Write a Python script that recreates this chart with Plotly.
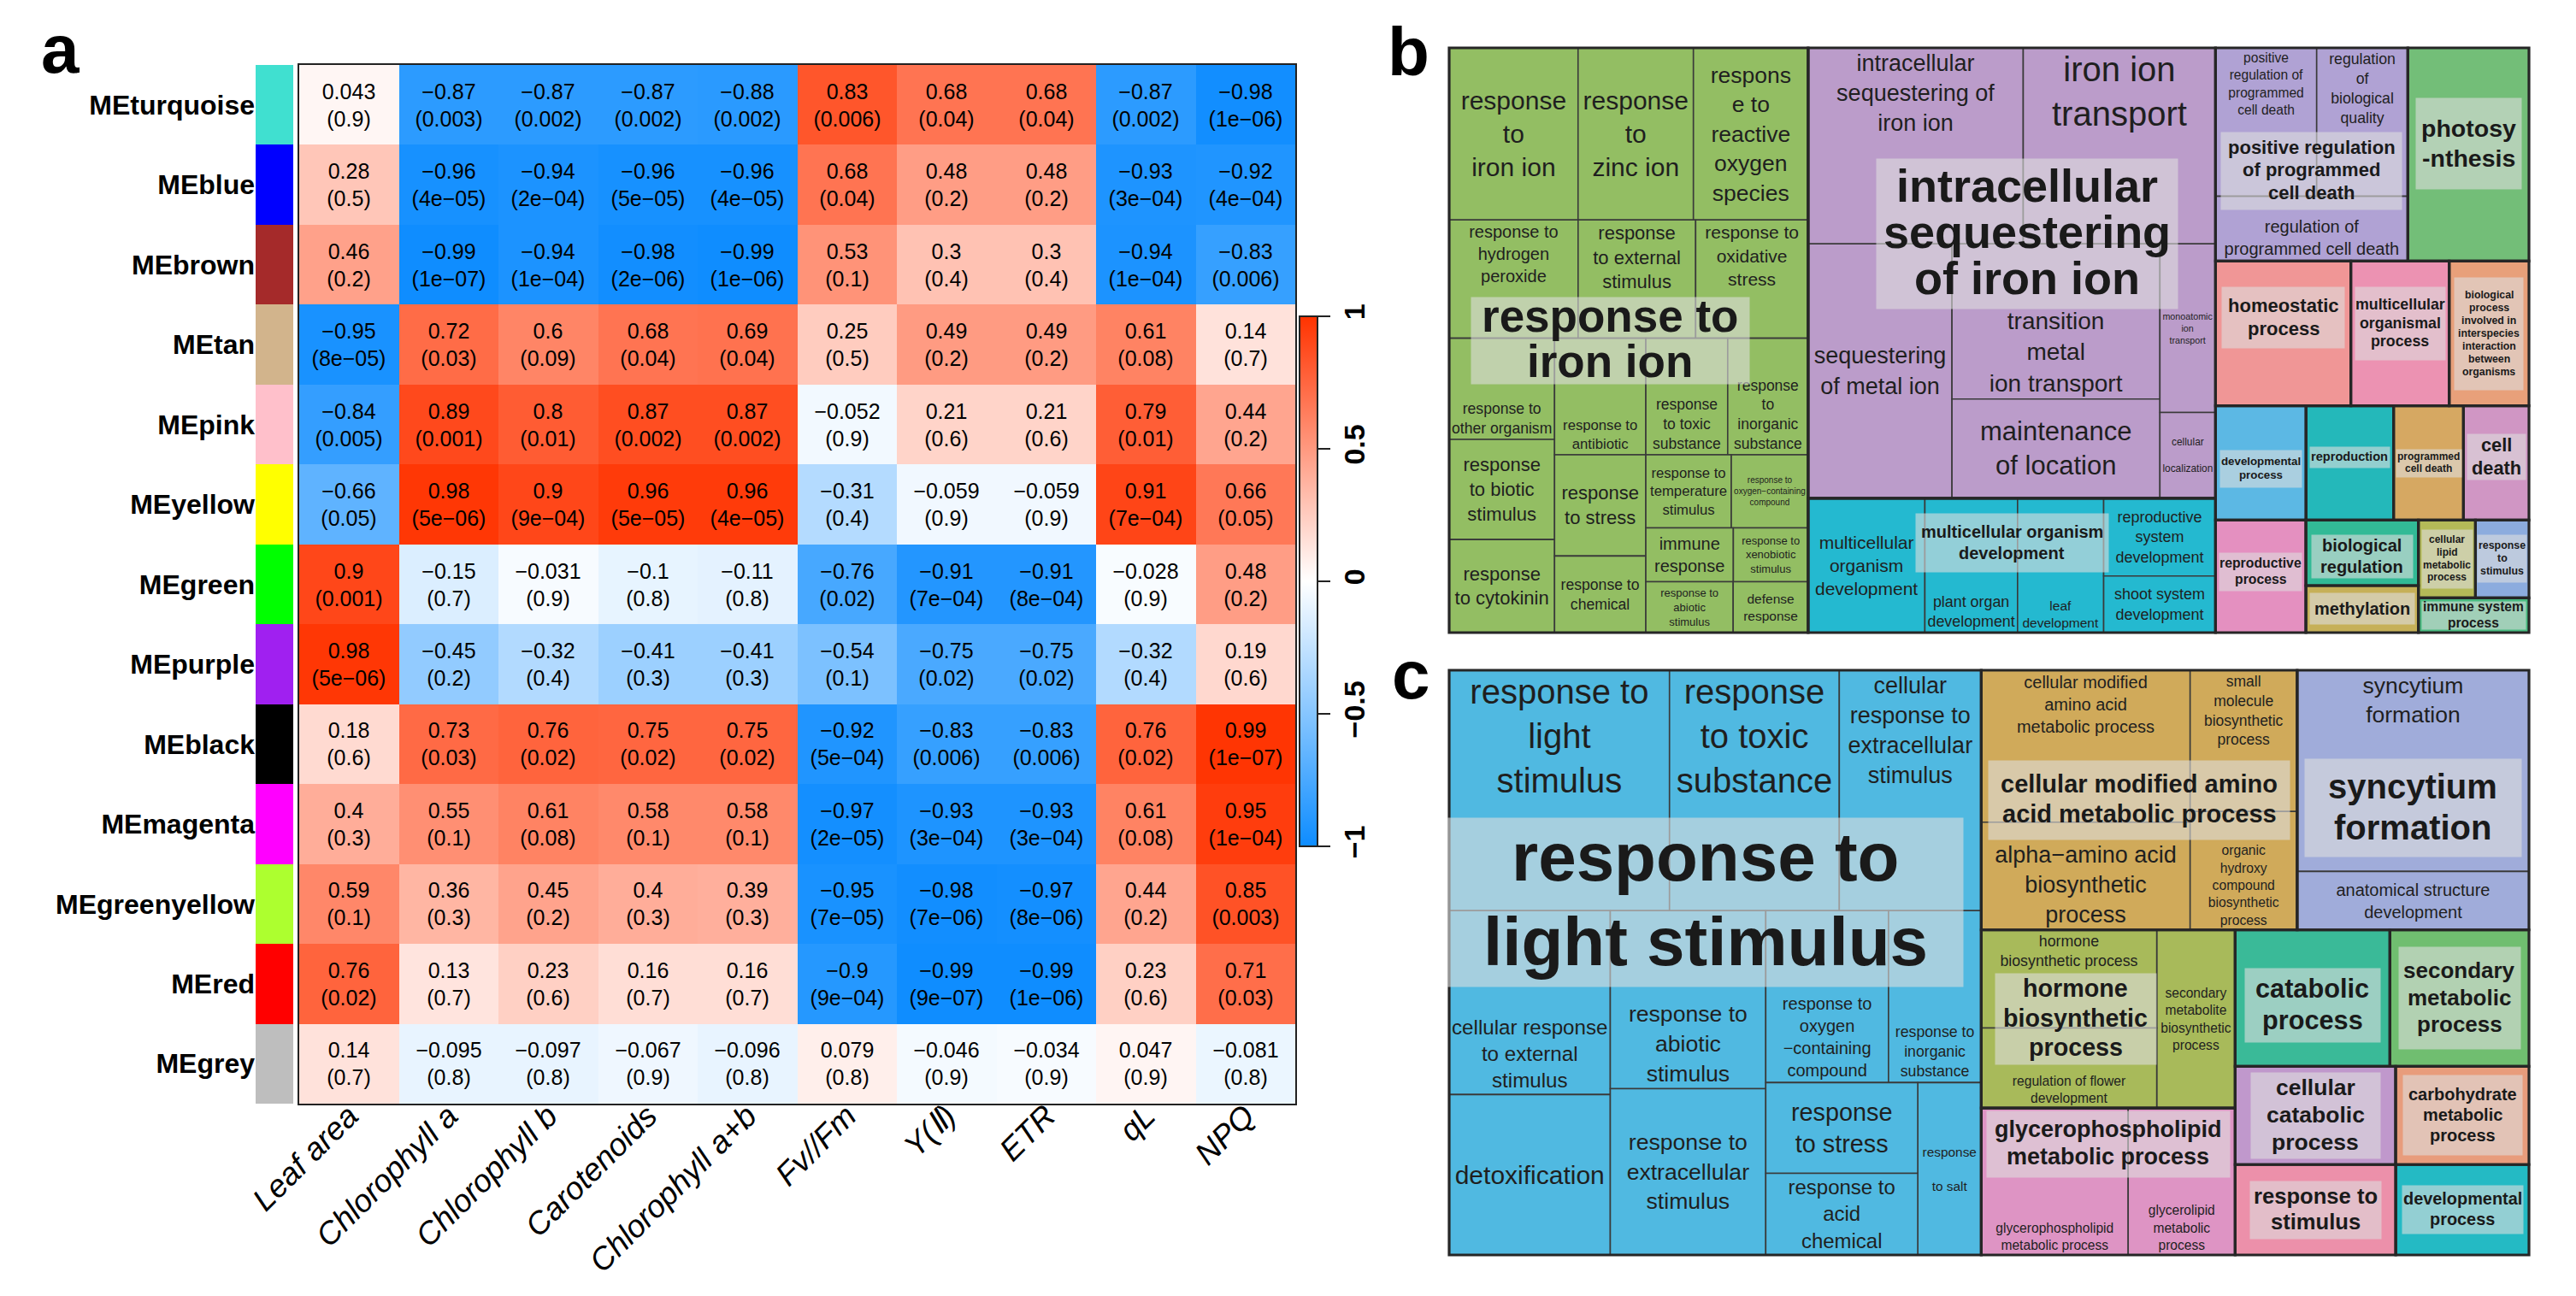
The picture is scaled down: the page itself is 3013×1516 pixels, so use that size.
import plotly.graph_objects as go
from collections import Counter

FONT = "Liberation Sans, Arial, Helvetica, sans-serif"
TRANSP = "rgba(0,0,0,0)"
BOX = "rgba(222,222,222,0.6)"

# ---------------- Panel a : module-trait correlation heatmap ----------------
traits = ["Leaf area", "Chlorophyll a", "Chlorophyll b", "Carotenoids", "Chlorophyll a+b",
          "Fv//Fm", "Y(Ⅱ)", "ETR", "qL", "NPQ"]
modules = ["MEturquoise", "MEblue", "MEbrown", "MEtan", "MEpink", "MEyellow", "MEgreen",
           "MEpurple", "MEblack", "MEmagenta", "MEgreenyellow", "MEred", "MEgrey"]
module_colors = ["#40E0D0", "#0000FF", "#A52A2A", "#D2B48C", "#FFC0CB", "#FFFF00", "#00FF00",
                 "#A020F0", "#000000", "#FF00FF", "#ADFF2F", "#FF0000", "#BEBEBE"]
cor = [
    [0.043, -0.87, -0.87, -0.87, -0.88, 0.83, 0.68, 0.68, -0.87, -0.98],
    [0.28, -0.96, -0.94, -0.96, -0.96, 0.68, 0.48, 0.48, -0.93, -0.92],
    [0.46, -0.99, -0.94, -0.98, -0.99, 0.53, 0.3, 0.3, -0.94, -0.83],
    [-0.95, 0.72, 0.6, 0.68, 0.69, 0.25, 0.49, 0.49, 0.61, 0.14],
    [-0.84, 0.89, 0.8, 0.87, 0.87, -0.052, 0.21, 0.21, 0.79, 0.44],
    [-0.66, 0.98, 0.9, 0.96, 0.96, -0.31, -0.059, -0.059, 0.91, 0.66],
    [0.9, -0.15, -0.031, -0.1, -0.11, -0.76, -0.91, -0.91, -0.028, 0.48],
    [0.98, -0.45, -0.32, -0.41, -0.41, -0.54, -0.75, -0.75, -0.32, 0.19],
    [0.18, 0.73, 0.76, 0.75, 0.75, -0.92, -0.83, -0.83, 0.76, 0.99],
    [0.4, 0.55, 0.61, 0.58, 0.58, -0.97, -0.93, -0.93, 0.61, 0.95],
    [0.59, 0.36, 0.45, 0.4, 0.39, -0.95, -0.98, -0.97, 0.44, 0.85],
    [0.76, 0.13, 0.23, 0.16, 0.16, -0.9, -0.99, -0.99, 0.23, 0.71],
    [0.14, -0.095, -0.097, -0.067, -0.096, 0.079, -0.046, -0.034, 0.047, -0.081],
]
pvals = [
    ["0.9", "0.003", "0.002", "0.002", "0.002", "0.006", "0.04", "0.04", "0.002", "1e-06"],
    ["0.5", "4e-05", "2e-04", "5e-05", "4e-05", "0.04", "0.2", "0.2", "3e-04", "4e-04"],
    ["0.2", "1e-07", "1e-04", "2e-06", "1e-06", "0.1", "0.4", "0.4", "1e-04", "0.006"],
    ["8e-05", "0.03", "0.09", "0.04", "0.04", "0.5", "0.2", "0.2", "0.08", "0.7"],
    ["0.005", "0.001", "0.01", "0.002", "0.002", "0.9", "0.6", "0.6", "0.01", "0.2"],
    ["0.05", "5e-06", "9e-04", "5e-05", "4e-05", "0.4", "0.9", "0.9", "7e-04", "0.05"],
    ["0.001", "0.7", "0.9", "0.8", "0.8", "0.02", "7e-04", "8e-04", "0.9", "0.2"],
    ["5e-06", "0.2", "0.4", "0.3", "0.3", "0.1", "0.02", "0.02", "0.4", "0.6"],
    ["0.6", "0.03", "0.02", "0.02", "0.02", "5e-04", "0.006", "0.006", "0.02", "1e-07"],
    ["0.3", "0.1", "0.08", "0.1", "0.1", "2e-05", "3e-04", "3e-04", "0.08", "1e-04"],
    ["0.1", "0.3", "0.2", "0.3", "0.3", "7e-05", "7e-06", "8e-06", "0.2", "0.003"],
    ["0.02", "0.7", "0.6", "0.7", "0.7", "9e-04", "9e-07", "1e-06", "0.6", "0.03"],
    ["0.7", "0.8", "0.8", "0.9", "0.8", "0.8", "0.9", "0.9", "0.9", "0.8"],
]
cbar_ticks = [-1, -0.5, 0, 0.5, 1]

# ---------------- Panel b : treemap ----------------
b_leaf_text = [
    "response<br>to<br>iron ion", "response<br>to<br>zinc ion",
    "respons<br>e to<br>reactive<br>oxygen<br>species",
    "response to<br>hydrogen<br>peroxide", "response<br>to external<br>stimulus",
    "response to<br>oxidative<br>stress", "response to<br>other organism",
    "response<br>to biotic<br>stimulus", "response<br>to cytokinin", "response to<br>antibiotic",
    "response<br>to toxic<br>substance", "response<br>to<br>inorganic<br>substance",
    "response<br>to stress", "response to<br>chemical", "response to<br>temperature<br>stimulus",
    "response to<br>oxygen−containing<br>compound", "immune<br>response",
    "response to<br>xenobiotic<br>stimulus", "response to<br>abiotic<br>stimulus",
    "defense<br>response",
    "intracellular<br>sequestering of<br>iron ion", "iron ion<br>transport",
    "sequestering<br>of metal ion", "transition<br>metal<br>ion transport",
    "maintenance<br>of location", "monoatomic<br>ion<br>transport", "cellular<br><br>localization",
    "multicellular<br>organism<br>development", "plant organ<br>development",
    "leaf<br>development", "reproductive<br>system<br>development", "shoot system<br>development",
    "positive<br>regulation of<br>programmed<br>cell death", "regulation<br>of<br>biological<br>quality",
    "regulation of<br>programmed cell death",
    "photosynthesis", "homeostatic process", "multicellular organismal process",
    "biological process involved in interspecies interaction between organisms",
    "developmental process", "reproduction", "programmed cell death", "cell death",
    "reproductive process", "biological regulation", "methylation",
    "cellular lipid metabolic process", "response to stimulus", "immune system process",
]
b_values = [80.9, 72.4, 72.0, 55.6, 50.7, 48.5, 38.9, 38.5, 35.8, 38.8, 34.8, 34.2, 33.7, 25.5,
            22.8, 20.5, 17.2, 14.7, 16.2, 13.9,
            153.7, 137.4, 133.5, 117.7, 75.3, 34.2, 17.4,
            57.2, 45.4, 42.2, 31.7, 23.1,
            54.7, 49.3, 45.6,
            94.2, 71.4, 51.9, 42.1, 37.7, 36.5, 29.1, 27.3, 37.1, 26.9, 19.3, 16.2, 15.2, 14.0]
b_leaf_group = [0] * 20 + [1] * 7 + [2] * 5 + [3] * 3 + list(range(4, 18))
b_groups = ["response to<br>iron ion", "intracellular<br>sequestering<br>of iron ion",
            "multicellular organism<br>development",
            "positive regulation<br>of programmed<br>cell death", "photosy<br>-nthesis",
            "homeostatic<br>process", "multicellular<br>organismal<br>process",
            "biological<br>process<br>involved in<br>interspecies<br>interaction<br>between<br>organisms",
            "developmental<br>process", "reproduction", "programmed<br>cell death", "cell<br>death",
            "reproductive<br>process", "biological<br>regulation", "methylation",
            "cellular<br>lipid<br>metabolic<br>process", "response<br>to<br>stimulus",
            "immune system<br>process"]
b_group_colors = ["#93BE63", "#BB9CCA", "#24B9D0", "#B0A2D4", "#73BE78", "#F09696", "#EC92B2",
                  "#E8A07A", "#5CB8E4", "#24B8BA", "#D6A862", "#D096C4", "#E490C0", "#32BA96",
                  "#C6B058", "#B4BA58", "#8CACDE", "#48BA80"]
# slice/dice nesting of the treemap (leaf indices, ('G', group, ...) = group node)
b_spec = ('H', [
    ('G', 0, ('V', [('H', [0, 1, 2]), ('H', [3, 4, 5]),
                    ('H', [('V', [6, 7, 8]),
                           ('V', [('H', [9, 10, 11]),
                                  ('H', [('V', [12, 13]),
                                         ('V', [('H', [14, 15]), ('H', [16, 17]), ('H', [18, 19])])])])])])),
    ('V', [('G', 1, ('V', [('H', [20, 21]), ('H', [22, ('V', [23, 24]), ('V', [25, 26])])])),
           ('G', 2, ('H', [27, 28, 29, ('V', [30, 31])]))]),
    ('V', [('H', [('G', 3, ('V', [('H', [32, 33]), 34])), ('G', 4, 35)]),
           ('H', [('G', 5, 36), ('G', 6, 37), ('G', 7, 38)]),
           ('H', [('G', 8, 39), ('G', 9, 40), ('G', 10, 41), ('G', 11, 42)]),
           ('H', [('G', 12, 43), ('V', [('G', 13, 44), ('G', 14, 45)]),
                  ('V', [('H', [('G', 15, 46), ('G', 16, 47)]), ('G', 17, 48)])])]),
])

# ---------------- Panel c : treemap ----------------
c_leaf_text = [
    "response to<br>light<br>stimulus", "response<br>to toxic<br>substance",
    "cellular<br>response to<br>extracellular<br>stimulus",
    "cellular response<br>to external<br>stimulus", "detoxification",
    "response to<br>abiotic<br>stimulus", "response to<br>extracellular<br>stimulus",
    "response to<br>oxygen<br>−containing<br>compound", "response to<br>inorganic<br>substance",
    "response<br>to stress", "response to<br>acid<br>chemical", "response<br><br>to salt",
    "cellular modified<br>amino acid<br>metabolic process", "alpha−amino acid<br>biosynthetic<br>process",
    "small<br>molecule<br>biosynthetic<br>process",
    "organic<br>hydroxy<br>compound<br>biosynthetic<br>process",
    "syncytium<br>formation", "anatomical structure<br>development",
    "hormone<br>biosynthetic process", "regulation of flower<br>development",
    "secondary<br>metabolite<br>biosynthetic<br>process",
    "glycerophospholipid<br>metabolic process", "glycerolipid<br>metabolic<br>process",
    "catabolic process", "secondary metabolic process", "cellular catabolic process",
    "carbohydrate metabolic process", "response to stimulus", "developmental process",
]
c_values = [193.1, 148.8, 124.4, 108.0, 94.2, 100.9, 94.2, 76.9, 58.1, 50.3, 45.2, 39.9,
            115.7, 82.0, 55.1, 46.2, 170.0, 49.4, 62.7, 51.2, 50.9, 78.7, 57.3,
            77.0, 69.2, 57.4, 47.7, 52.9, 43.9]
c_leaf_group = [0] * 12 + [1] * 4 + [2] * 2 + [3] * 3 + [4] * 2 + list(range(5, 11))
c_groups = ["response to<br>light stimulus", "cellular modified amino<br>acid metabolic process",
            "syncytium<br>formation", "hormone<br>biosynthetic<br>process",
            "glycerophospholipid<br>metabolic process", "catabolic<br>process",
            "secondary<br>metabolic<br>process", "cellular<br>catabolic<br>process",
            "carbohydrate<br>metabolic<br>process", "response to<br>stimulus", "developmental<br>process"]
c_group_colors = ["#50B9E1", "#D0AA5A", "#A0ACDA", "#A8BA5A", "#DE94C4", "#3ABA98", "#70BE70",
                  "#C098CC", "#E89C7C", "#EC90AA", "#24BAC4"]
c_spec = ('H', [
    ('G', 0, ('V', [('H', [0, 1, 2]),
                    ('H', [('V', [3, 4]), ('V', [5, 6]),
                           ('V', [('H', [7, 8]), ('H', [('V', [9, 10]), 11])])])])),
    ('V', [('H', [('G', 1, ('H', [('V', [12, 13]), ('V', [14, 15])])), ('G', 2, ('V', [16, 17]))]),
           ('H', [('V', [('G', 3, ('H', [('V', [18, 19]), 20])), ('G', 4, ('H', [21, 22]))]),
                  ('V', [('H', [('G', 5, 23), ('G', 6, 24)]),
                         ('H', [('G', 7, 25), ('G', 8, 26)]),
                         ('H', [('G', 9, 27), ('G', 10, 28)])])])]),
])

# ---------------- styles ----------------
b_text_pos = ['m'] * 49
for i in [3, 4, 5, 20, 21, 32, 33]:
    b_text_pos[i] = 't'
for i in [6, 9, 10, 11, 23, 28, 29, 34]:
    b_text_pos[i] = 'b'
c_text_pos = ['m'] * 29
for i in [0, 1, 2, 12, 14, 16, 18]:
    c_text_pos[i] = 't'
for i in [3, 5, 7, 8, 13, 15, 19, 21, 22]:
    c_text_pos[i] = 'b'
b_text_size = [30, 30, 26.5, 20, 22, 21, 22, 22, 22, 16.7, 17.5, 17.5, 22, 17.6, 16.7, 10, 20, 13,
               13, 15.5, 27, 40, 27, 28, 31, 11, 12, 21, 18, 15.5, 18, 18, 15.6, 17.7, 20] + [10] * 14
c_text_size = [40, 40, 27, 24.5, 30, 26.6, 26.6, 20, 17.7, 28.8, 26.6, 15.4, 20, 27, 17.5, 15.7,
               26.5, 20, 17.8, 15.7, 15.6, 15.6, 15.6] + [10] * 6
b_label_size = [53, 54, 20, 22, 28.5, 22, 17.8, 12.3, 13.3, 14.6, 12, 21.8, 15.8, 20, 20, 12, 12.4, 15.6]
c_label_size = [80, 29, 40, 28.7, 27, 30.7, 26, 26.5, 20, 25.6, 19.9]
b_label_lh = [1.0, 1.0] + [1.22] * 16
c_label_lh = [1.24] + [1.2] * 10
b_box_w = [325, 352, 225, 211, 123, 143, 105, 80, 95, 93, 76, 68, 96, 118, 122, 59, 57, 121]
b_box_h = [101, 175, 68, 90, 106, 71, 85, 131, 43, 24, 32, 53, 44, 50, 36, 68, 55, 32]
c_box_w = [603, 352, 253, 188, 284, 158, 142, 151, 139, 153, 141]
c_box_h = [197, 92, 114, 106, 77, 86, 119, 100, 93, 67, 56]
b_shift = [(-0.017, 0.0), (0.0145, -0.067), (0, -0.038), (0, 0.028), (0, -0.018), (0, -0.027),
           (0, -0.017), (0, 0), (0, 0.01), (0, -0.01), (0, 0), (0, -0.01), (0, -0.008), (0, 0.007),
           (0, 0), (0, 0), (0, 0), (0, 0)]
c_shift = [(-0.009, -0.103), (0, 0), (0, 0.014), (-0.03, 0), (0, -0.064), (0, 0.012), (0, 0),
           (0, 0), (0, 0), (0, 0), (0, 0)]
B_DOM = dict(x=[1687 / 3013, 2950 / 3013], y=[1 - 732 / 1516, 1 - 48 / 1516])
C_DOM = dict(x=[1687 / 3013, 2950 / 3013], y=[1 - 1460 / 1516, 1 - 776 / 1516])


def total(item, values):
    if isinstance(item, int):
        return values[item]
    if item[0] == 'G':
        return total(item[2], values)
    return sum(total(k, values) for k in item[1])


def build(spec, values, stop_at_group):
    nodes = []
    cnt = [0]

    def nid(p):
        cnt[0] += 1
        return f"{p}{cnt[0]}"

    def emit(item, parent, depth):
        if isinstance(item, int):
            nodes.append(dict(id=f"L{item}", parent=parent, value=values[item], kind="leaf", leaf=item))
            return
        gi, sub = None, item
        if item[0] == 'G':
            gi, sub = item[1], item[2]
            if stop_at_group:
                nodes.append(dict(id=f"G{gi}", parent=parent, value=total(sub, values),
                                  kind="gleaf", group=gi))
                return
            if isinstance(sub, int):
                emit(sub, parent, depth)
                return
        d, kids = sub
        need = 0 if d == 'H' else 1
        if depth % 2 != need:
            pid = nid("P")
            nodes.append(dict(id=pid, parent=parent, value=0, kind="pass"))
            parent, depth = pid, depth + 1
        cid = f"G{gi}" if gi is not None else nid("C")
        nodes.append(dict(id=cid, parent=parent, value=0,
                          kind="group" if gi is not None else "cont", group=gi))
        for k in kids:
            emit(k, cid, depth + 1)

    emit(spec, "", 0)
    return nodes


def rects(item, values, x0, y0, x1, y1, out):
    if isinstance(item, int):
        return
    if item[0] == 'G':
        out[item[1]] = (x0, y0, x1, y1)
        rects(item[2], values, x0, y0, x1, y1, out)
        return
    d, kids = item
    tot = sum(total(k, values) for k in kids)
    a = x0 if d == 'H' else y0
    span = (x1 - x0) if d == 'H' else (y1 - y0)
    for k in kids:
        s = span * total(k, values) / tot
        if d == 'H':
            rects(k, values, a, y0, a + s, y1, out)
        else:
            rects(k, values, x0, a, x1, a + s, out)
        a += s


def treemap_parts(spec, values, leaf_text, leaf_group, group_colors, groups, text_pos,
                  text_size, label_size, label_lh, box_w, box_h, shifts, dom):
    traces = []
    full = build(spec, values, False)
    ngl = Counter(leaf_group)
    ids = [n["id"] for n in full]
    par = [n["parent"] for n in full]
    vals = [n["value"] for n in full]
    posname = {"m": "middle center", "t": "top center", "b": "bottom center"}
    for layer in ["m", "t", "b"]:
        cols, lw, txt, sz = [], [], [], []
        for n in full:
            if n["kind"] == "leaf":
                i = n["leaf"]
                g = leaf_group[i]
                show = ngl[g] > 1 and text_pos[i] == layer
                txt.append(leaf_text[i] if show else "")
                sz.append(text_size[i] if show else 10)
                cols.append(group_colors[g] if layer == "m" else TRANSP)
                lw.append(1.6 if layer == "m" else 0)
            elif n["kind"] == "group":
                cols.append(group_colors[n["group"]] if layer == "m" else TRANSP)
                lw.append(0)
                txt.append("")
                sz.append(10)
            else:
                cols.append(TRANSP)
                lw.append(0)
                txt.append("")
                sz.append(10)
        traces.append(go.Treemap(
            ids=ids, labels=ids, parents=par, values=vals, branchvalues="remainder", sort=False,
            text=txt, textinfo="text", textposition=posname[layer],
            textfont=dict(size=sz, color="#1f1f1f", family=FONT),
            marker=dict(colors=cols, line=dict(width=lw, color="#3a3a3a"),
                        pad=dict(t=0, l=0, r=0, b=0), depthfade=False),
            tiling=dict(packing="slice-dice", pad=0), pathbar=dict(visible=False),
            root=dict(color=TRANSP), domain=dom, hoverinfo="skip"))
    ov = build(spec, values, True)
    lw = []
    for n in ov:
        if n["kind"] == "gleaf":
            lw.append(3.2)
        elif n["parent"] == "":
            lw.append(3.5)
        else:
            lw.append(0)
    oids = [n["id"] for n in ov]
    traces.append(go.Treemap(
        ids=oids, labels=oids, parents=[n["parent"] for n in ov], values=[n["value"] for n in ov],
        branchvalues="remainder", sort=False, textinfo="none",
        marker=dict(colors=[TRANSP] * len(ov), line=dict(width=lw, color="#262626"),
                    pad=dict(t=0, l=0, r=0, b=0), depthfade=False),
        tiling=dict(packing="slice-dice", pad=0), pathbar=dict(visible=False),
        root=dict(color=TRANSP), domain=dom, hoverinfo="skip"))
    # group labels: one shaded box + tightly spaced bold lines
    out = {}
    rects(spec, values, 0, 0, 1, 1, out)
    bgs, lines_out = [], []
    for gi, lab in enumerate(groups):
        x0, y0, x1, y1 = out[gi]
        cx = (x0 + x1) / 2 + shifts[gi][0]
        cy = (y0 + y1) / 2 + shifts[gi][1]
        ax = dom["x"][0] + cx * (dom["x"][1] - dom["x"][0])
        ay = dom["y"][1] - cy * (dom["y"][1] - dom["y"][0])
        size = label_size[gi]
        bgs.append(dict(x=ax, y=ay, xref="paper", yref="paper", text=" ", showarrow=False,
                        xanchor="center", yanchor="middle", font=dict(size=4, color=TRANSP),
                        bgcolor=BOX, borderpad=0, width=box_w[gi], height=box_h[gi]))
        parts = lab.split("<br>")
        nl = len(parts)
        for k, line in enumerate(parts):
            off = (k - (nl - 1) / 2) * label_lh[gi] * size
            lines_out.append(dict(x=ax, y=ay - off / 1516 + 0.04 * size / 1516, xref="paper",
                                  yref="paper", text=line, showarrow=False,
                                  xanchor="center", yanchor="middle", align="center",
                                  font=dict(size=size, family=FONT, color="#1a1a1a", weight="bold")))
    return traces, bgs + lines_out


fig = go.Figure()

cell_text = [[(f"{c}<br>({p})").replace("-", "−") for c, p in zip(rc, rp)] for rc, rp in zip(cor, pvals)]
fig.add_trace(go.Heatmap(
    z=cor, x=traits, y=modules, text=cell_text, texttemplate="%{text}",
    textfont=dict(size=25, color="black", family=FONT),
    colorscale=[[0, "rgb(13,140,255)"], [0.5, "rgb(255,255,255)"], [1, "rgb(255,51,0)"]],
    zmin=-1, zmax=1, hoverinfo="skip",
    colorbar=dict(x=1512 / 3013, xanchor="left", y=1 - 672 / 1516, yanchor="middle",
                  len=620 / 1516, lenmode="fraction", thickness=21, thicknessmode="pixels",
                  outlinewidth=2, outlinecolor="#222222", xpad=0, ypad=0,
                  tickvals=cbar_ticks, ticktext=[str(t).replace("-", "−") for t in cbar_ticks],
                  ticks="outside", ticklen=14, tickwidth=2, tickcolor="#222222", tickangle=-90,
                  tickfont=dict(size=34, family=FONT, color="black", weight="bold")),
    xaxis="x", yaxis="y"))

n = len(module_colors)
strip_scale = []
for i, c in enumerate(module_colors):
    strip_scale += [[i / n, c], [(i + 1) / n, c]]
fig.add_trace(go.Heatmap(z=[[i] for i in range(n)], x=[0], y=modules, colorscale=strip_scale,
                         zmin=-0.5, zmax=n - 0.5, showscale=False, hoverinfo="skip",
                         xaxis="x2", yaxis="y2"))

tb, ab = treemap_parts(b_spec, b_values, b_leaf_text, b_leaf_group, b_group_colors, b_groups,
                       b_text_pos, b_text_size, b_label_size, b_label_lh, b_box_w, b_box_h,
                       b_shift, B_DOM)
tc, ac = treemap_parts(c_spec, c_values, c_leaf_text, c_leaf_group, c_group_colors, c_groups,
                       c_text_pos, c_text_size, c_label_size, c_label_lh, c_box_w, c_box_h,
                       c_shift, C_DOM)
for t in tb + tc:
    fig.add_trace(t)

panel_labels = [
    dict(x=39 / 3013, y=1 - 95 / 1516, text="a"),
    dict(x=1614 / 3013, y=1 - 98 / 1516, text="b"),
    dict(x=1619 / 3013, y=1 - 827 / 1516, text="c"),
]
anns = []
for p in panel_labels:
    anns.append(dict(x=p["x"], y=p["y"], xref="paper", yref="paper", text=p["text"], showarrow=False,
                     xanchor="left", yanchor="bottom", borderpad=0,
                     font=dict(size=80, family=FONT, color="black", weight="bold")))

HY = [1 - 1283 / 1516, 1 - 68 / 1516]
fig.update_layout(
    width=3013, height=1516, margin=dict(l=0, r=0, t=0, b=0, autoexpand=False),
    paper_bgcolor="white", plot_bgcolor="white", font=dict(family=FONT, color="black"),
    showlegend=False,
    xaxis=dict(domain=[342 / 3013, 1507 / 3013], anchor="y", showline=True, mirror=True,
               linecolor="#222222", linewidth=2, ticks="", showgrid=False, zeroline=False,
               tickangle=-45, tickvals=traits, ticktext=[f"<i>{t}</i>" for t in traits],
               ticklabelstandoff=-24,
               tickfont=dict(size=37, family=FONT, color="black")),
    yaxis=dict(domain=HY, anchor="x", autorange="reversed", showticklabels=False, showline=True,
               mirror=True, linecolor="#222222", linewidth=2, showgrid=False, zeroline=False,
               ticks=""),
    xaxis2=dict(domain=[291 / 3013, 335 / 3013], anchor="y2", showticklabels=False,
                showgrid=False, zeroline=False, ticks=""),
    yaxis2=dict(domain=HY, anchor="x2", autorange="reversed", showgrid=False, zeroline=False,
                ticks="", tickfont=dict(size=32, family=FONT, color="black", weight="bold")),
    annotations=anns + ab + ac,
)

fig.write_html("out.html")
